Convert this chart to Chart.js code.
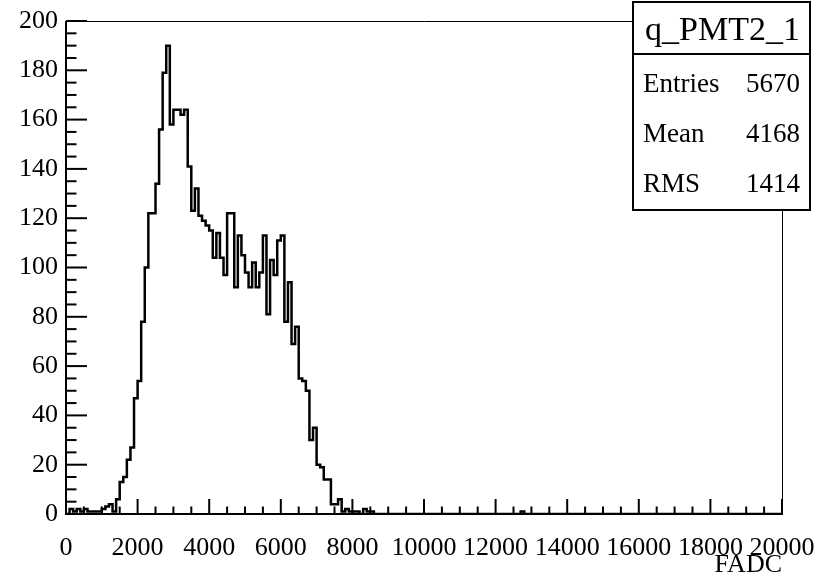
<!DOCTYPE html>
<html>
<head>
<meta charset="utf-8">
<script src="https://cdn.jsdelivr.net/npm/chart.js@4.4.1/dist/chart.umd.min.js"></script>
<style>
  body { margin: 0; background: #fff; }
  canvas { display: block; }
</style>
</head>
<body>
<canvas id="histo" width="828" height="574"></canvas>
<script>
// histogram q_PMT2_1 : 200 bins of 100 from 0 to 20000
const histName = 'q_PMT2_1';
const axisTitle = 'FADC';
const binWidth = 100;
const binCounts = [
    0, 2, 1, 2, 1, 2, 1, 1, 1, 1, 2, 3, 4, 1, 6, 13, 15, 22, 27, 47,
    54, 78, 100, 122, 122, 134, 156, 179, 190, 158, 164, 164, 162, 164, 141, 123, 132, 121, 119, 117,
    115, 104, 114, 104, 97, 122, 122, 92, 113, 105, 98, 92, 102, 92, 98, 113, 81, 103, 97, 111,
    113, 78, 94, 69, 76, 55, 54, 50, 30, 35, 20, 19, 14, 14, 4, 4, 6, 1, 2, 1,
    1, 1, 0, 2, 1, 1, 0, 0, 0, 0, 0, 0, 0, 0, 0, 0, 0, 0, 0, 0,
    0, 0, 0, 0, 0, 0, 0, 0, 0, 0, 0, 0, 0, 0, 0, 0, 0, 0, 0, 0,
    0, 0, 0, 0, 0, 0, 0, 1, 0, 0, 0, 0, 0, 0, 0, 0, 0, 0, 0, 0,
    0, 0, 0, 0, 0, 0, 0, 0, 0, 0, 0, 0, 0, 0, 0, 0, 0, 0, 0, 0,
    0, 0, 0, 0, 0, 0, 0, 0, 0, 0, 0, 0, 0, 0, 0, 0, 0, 0, 0, 0,
    0, 0, 0, 0, 0, 0, 0, 0, 0, 0, 0, 0, 0, 0, 0, 0, 0, 0, 0, 0
];
const xTicks = [0, 2000, 4000, 6000, 8000, 10000, 12000, 14000, 16000, 18000, 20000];
const yTicks = [0, 20, 40, 60, 80, 100, 120, 140, 160, 180, 200];
const statNames = ['Entries', 'Mean', 'RMS'];
const statValues = ['5670', '4168', '1414'];

const serif = "'Liberation Serif', 'DejaVu Serif', serif";

// left edge of each bin + closing point at the end
const points = binCounts.map((c, i) => ({ x: i * binWidth, y: c }));
points.push({ x: binCounts.length * binWidth, y: binCounts[binCounts.length - 1] });

// frame, inward ticks, axis title and stats box like ROOT
const rootStyle = {
    id: 'rootStyle',
    afterDraw(chart) {
        const ctx = chart.ctx;
        const a = chart.chartArea;
        const xs = chart.scales.x;
        const ys = chart.scales.y;
        ctx.save();
        ctx.strokeStyle = '#000';

        // top and right frame
        ctx.lineWidth = 1;
        ctx.beginPath();
        ctx.moveTo(a.left, a.top + 0.5);
        ctx.lineTo(a.right + 0.5, a.top + 0.5);
        ctx.lineTo(a.right + 0.5, a.bottom);
        ctx.stroke();

        // axes
        ctx.lineWidth = 2;
        ctx.beginPath();
        ctx.moveTo(a.left, a.top);
        ctx.lineTo(a.left, a.bottom);
        ctx.lineTo(a.right + 1, a.bottom);
        ctx.stroke();

        // y ticks (every 5, major every 20)
        for (let v = 0; v <= 200; v += 5) {
            const py = ys.getPixelForValue(v);
            const len = v % 20 === 0 ? 21 : 10.5;
            ctx.beginPath();
            ctx.moveTo(a.left, py);
            ctx.lineTo(a.left + len, py);
            ctx.stroke();
        }
        // x ticks (every 500, major every 2000)
        for (let v = 0; v <= 20000; v += 500) {
            const px = xs.getPixelForValue(v);
            const len = v % 2000 === 0 ? 15 : 7.5;
            ctx.beginPath();
            ctx.moveTo(px, a.bottom);
            ctx.lineTo(px, a.bottom - len);
            ctx.stroke();
        }

        // axis title
        ctx.fillStyle = '#000';
        ctx.font = '26px ' + serif;
        ctx.textAlign = 'right';
        ctx.textBaseline = 'alphabetic';
        ctx.fillText(axisTitle, a.right, 572);

        // stats box
        const bx = 633, by = 2, bw = 177, bh = 208;
        ctx.fillStyle = '#fff';
        ctx.fillRect(bx, by, bw, bh);
        ctx.lineWidth = 2;
        ctx.strokeRect(bx, by, bw, bh);
        ctx.beginPath();
        ctx.moveTo(bx, 54);
        ctx.lineTo(bx + bw, 54);
        ctx.stroke();

        ctx.fillStyle = '#000';
        ctx.font = '34px ' + serif;
        ctx.textAlign = 'center';
        ctx.fillText(histName, bx + bw / 2 + 1, 40);

        ctx.font = '27px ' + serif;
        statNames.forEach((name, i) => {
            const base = 92 + i * 50;
            ctx.textAlign = 'left';
            ctx.fillText(name, bx + 10, base);
            ctx.textAlign = 'right';
            ctx.fillText(statValues[i], bx + bw - 10, base);
        });
        ctx.restore();
    }
};

// keep the plot frame fixed at 66..782 x 21..514
const fixX = s => { s.height = 60; s.paddingLeft = 0; s.paddingRight = 0; };
const fixY = s => { s.width = 66; s.paddingTop = 0; s.paddingBottom = 0; };

const ctx = document.getElementById('histo').getContext('2d');
const histChart = new Chart(ctx, {
    type: 'line',
    data: {
        datasets: [{
            label: histName,
            data: points,
            stepped: 'before',
            borderColor: '#000',
            borderWidth: 2.5,
            pointRadius: 0,
            fill: false,
            tension: 0
        }]
    },
    options: {
        responsive: false,
        animation: false,
        layout: {
            padding: { top: 21, right: 46, left: 0, bottom: 0 }
        },
        plugins: {
            legend: { display: false },
            tooltip: { enabled: false }
        },
        scales: {
            x: {
                type: 'linear',
                min: 0,
                max: 20000,
                afterBuildTicks: s => { s.ticks = xTicks.map(v => ({ value: v })); },
                afterFit: fixX,
                grid: { display: false, drawTicks: false },
                border: { display: false },
                ticks: {
                    autoSkip: false,
                    maxRotation: 0,
                    padding: 19,
                    color: '#000',
                    font: { family: serif, size: 26 },
                    callback: v => String(v)
                }
            },
            y: {
                type: 'linear',
                min: 0,
                max: 200,
                afterBuildTicks: s => { s.ticks = yTicks.map(v => ({ value: v })); },
                afterFit: fixY,
                grid: { display: false, drawTicks: false },
                border: { display: false },
                ticks: {
                    padding: 8,
                    color: '#000',
                    font: { family: serif, size: 26 },
                    callback: v => String(v)
                }
            }
        }
    },
    plugins: [rootStyle]
});
</script>
</body>
</html>
